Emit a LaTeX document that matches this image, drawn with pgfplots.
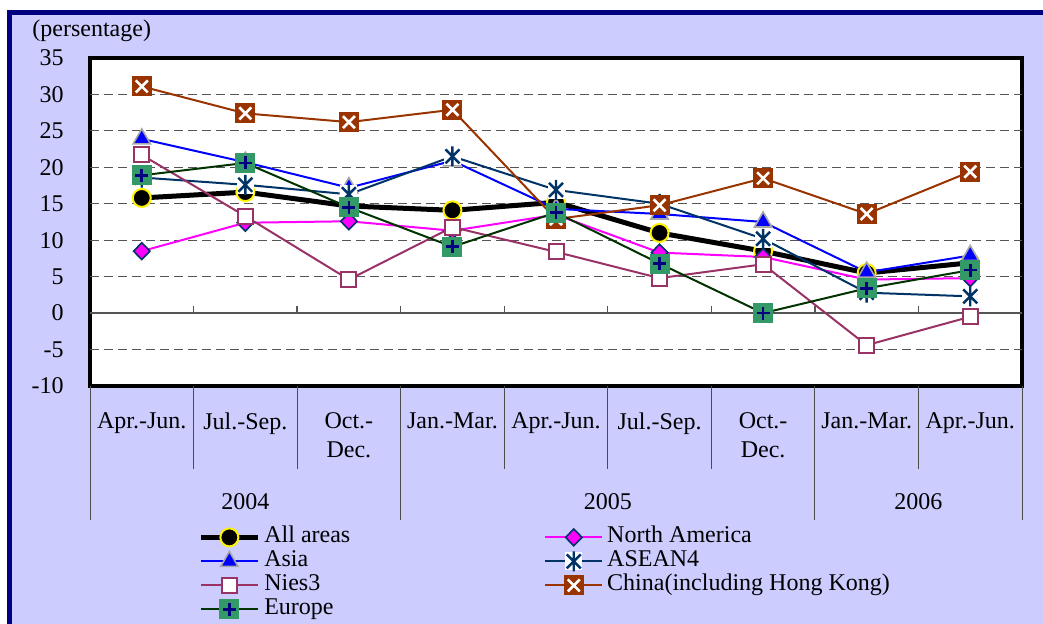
\documentclass[border=0pt,12pt]{standalone}
\usepackage{fontspec}
\setmainfont{Liberation Serif}
\usepackage{pgfplots}
\pgfplotsset{compat=1.18}
\definecolor{navyb}{HTML}{000080}
\definecolor{lav}{HTML}{CCCCFF}
\definecolor{naone}{HTML}{003366}
\definecolor{plum}{HTML}{993366}
\definecolor{chinab}{HTML}{993300}
\definecolor{eurl}{HTML}{003300}
\definecolor{eurf}{HTML}{339966}
\definecolor{gridc}{HTML}{555555}
\definecolor{magn}{HTML}{FF00FF}
\pgfdeclareplotmark{chinamark}{%
  \pgfpathrectangle{\pgfqpoint{-\pgfplotmarksize}{-\pgfplotmarksize}}{\pgfqpoint{2\pgfplotmarksize}{2\pgfplotmarksize}}%
  \pgfsetfillcolor{chinab}\pgfusepath{fill}%
  \pgfsetstrokecolor{white}\pgfsetlinewidth{1.3pt}%
  \pgfpathmoveto{\pgfqpoint{-0.6\pgfplotmarksize}{-0.6\pgfplotmarksize}}\pgfpathlineto{\pgfqpoint{0.6\pgfplotmarksize}{0.6\pgfplotmarksize}}%
  \pgfpathmoveto{\pgfqpoint{-0.6\pgfplotmarksize}{0.6\pgfplotmarksize}}\pgfpathlineto{\pgfqpoint{0.6\pgfplotmarksize}{-0.6\pgfplotmarksize}}%
  \pgfusepath{stroke}}
\pgfdeclareplotmark{euromark}{%
  \pgfpathrectangle{\pgfqpoint{-\pgfplotmarksize}{-\pgfplotmarksize}}{\pgfqpoint{2\pgfplotmarksize}{2\pgfplotmarksize}}%
  \pgfsetfillcolor{eurf}\pgfusepath{fill}%
  \pgfsetstrokecolor{navyb}\pgfsetlinewidth{1.3pt}%
  \pgfpathmoveto{\pgfqpoint{-0.65\pgfplotmarksize}{0pt}}\pgfpathlineto{\pgfqpoint{0.65\pgfplotmarksize}{0pt}}%
  \pgfpathmoveto{\pgfqpoint{0pt}{-0.65\pgfplotmarksize}}\pgfpathlineto{\pgfqpoint{0pt}{0.65\pgfplotmarksize}}%
  \pgfusepath{stroke}}
\pgfdeclareplotmark{aseanmark}{%
  \pgfpathrectangle{\pgfqpoint{-0.85\pgfplotmarksize}{-0.9\pgfplotmarksize}}{\pgfqpoint{1.7\pgfplotmarksize}{1.8\pgfplotmarksize}}%
  \pgfsetfillcolor{white}\pgfusepath{fill}%
  \pgfsetstrokecolor{naone}\pgfsetlinewidth{1.2pt}%
  \pgfpathmoveto{\pgfqpoint{0pt}{-\pgfplotmarksize}}\pgfpathlineto{\pgfqpoint{0pt}{\pgfplotmarksize}}%
  \pgfpathmoveto{\pgfqpoint{-0.7\pgfplotmarksize}{-0.7\pgfplotmarksize}}\pgfpathlineto{\pgfqpoint{0.7\pgfplotmarksize}{0.7\pgfplotmarksize}}%
  \pgfpathmoveto{\pgfqpoint{-0.7\pgfplotmarksize}{0.7\pgfplotmarksize}}\pgfpathlineto{\pgfqpoint{0.7\pgfplotmarksize}{-0.7\pgfplotmarksize}}%
  \pgfusepath{stroke}}
\begin{document}
\begin{tikzpicture}[x=1pt,y=1pt]
\clip (0,0) rectangle (521.5,312);
\fill[white] (0,0) rectangle (521.5,312);
\draw[line width=2.5pt, draw=navyb, fill=lav] (4.6,305.75) rectangle (545,-20);
\node[anchor=west, inner sep=0pt] at (16,296.5) {(persentage)};
\begin{axis}[
  at={(45pt,119pt)}, anchor=south west,
  scale only axis, width=466pt, height=164pt,
  xmin=-0.5, xmax=8.5, ymin=-10, ymax=35,
  xtick={0,...,8},
  xticklabels={Apr.-Jun.,Jul.-Sep.,{Oct.-\\Dec.},Jan.-Mar.,Apr.-Jun.,Jul.-Sep.,{Oct.-\\Dec.},Jan.-Mar.,Apr.-Jun.},
  xticklabel style={align=center, yshift=-9pt},
  ytick={-10,-5,...,35},
  yticklabels={-10,-5,0,5,10,15,20,25,30,35},
  yticklabel style={xshift=-9pt},
  major tick length=0pt,
  axis line style={line width=2.2pt, black},
  axis background/.style={fill=white},
  clip=false,
  legend columns=2,
  legend cell align=left,
  legend image code/.code={\draw[mark repeat=2,mark phase=2] plot coordinates {(0cm,0cm) (0.5cm,0cm) (1cm,0cm)};},
  legend style={at={(0.1159,-0.4238)}, anchor=north west, draw=none, fill=none,
    inner sep=0pt, row sep=0pt, column sep=0pt,
    nodes={inner xsep=2pt, inner ysep=0pt, text height=8.5pt, text depth=3.5pt}},
]
\pgfplotsinvokeforeach{-5,5,10,15,20,25,30}{\draw[gridc, line width=0.6pt, dash pattern=on 4.5pt off 2.5pt] (axis cs:-0.5,#1) -- (axis cs:8.5,#1);}
\draw[gridc, line width=0.7pt] (axis cs:-0.5,0) -- (axis cs:8.5,0);
\pgfplotsinvokeforeach{0.5,1.5,2.5,3.5,4.5,5.5,6.5,7.5}{\draw[gridc, line width=0.7pt] (axis cs:#1,0) -- ++(0pt,3.5pt);}
\pgfplotsinvokeforeach{0.5,1.5,3.5,4.5,5.5,7.5}{\draw[black!70, line width=0.5pt] (axis cs:#1,-10) -- ++(0pt,-41.5pt);}
\pgfplotsinvokeforeach{-0.5,2.5,6.5,8.5}{\draw[black!70, line width=0.5pt] (axis cs:#1,-10) -- ++(0pt,-67pt);}
\node[yshift=-58pt] at (axis cs:1,-10) {2004};
\node[yshift=-58pt] at (axis cs:4.5,-10) {2005};
\node[yshift=-58pt] at (axis cs:7.5,-10) {2006};

\addplot[black, line width=2.5pt, mark=*, mark size=4.5pt, mark options={fill=black, draw=yellow, line width=1pt}]
  coordinates {(0,15.8) (1,16.6) (2,14.7) (3,14.1) (4,15.2) (5,11.0) (6,8.5) (7,5.5) (8,6.9)};
\addlegendentry{\makebox[138pt][l]{All areas}}
\addplot[magn, line width=1pt, mark=diamond*, mark size=4.2pt, mark options={fill=magn, draw=naone, line width=0.8pt, xscale=1.3}]
  coordinates {(0,8.5) (1,12.4) (2,12.6) (3,11.3) (4,13.5) (5,8.3) (6,7.7) (7,4.6) (8,4.8)};
\addlegendentry{North America}
\addplot[blue, line width=1pt, mark=triangle*, mark size=5pt, mark options={fill=blue, draw=black!35, line width=0.8pt}]
  coordinates {(0,23.9) (1,20.7) (2,17.2) (3,20.9) (4,14.3) (5,13.6) (6,12.5) (7,5.6) (8,7.9)};
\addlegendentry{\makebox[138pt][l]{Asia}}
\addplot[naone, line width=1pt, mark=aseanmark, mark size=5pt]
  coordinates {(0,18.6) (1,17.6) (2,16.3) (3,21.5) (4,16.9) (5,15.0) (6,10.2) (7,2.8) (8,2.3)};
\addlegendentry{ASEAN4}
\addplot[plum, line width=1pt, mark=square*, mark size=3.75pt, mark options={fill=white, draw=plum, line width=1pt}]
  coordinates {(0,21.7) (1,13.3) (2,4.6) (3,11.8) (4,8.4) (5,4.8) (6,6.7) (7,-4.4) (8,-0.5)};
\addlegendentry{\makebox[138pt][l]{Nies3}}
\addplot[chinab, line width=1pt, mark=chinamark, mark size=5pt]
  coordinates {(0,31.1) (1,27.4) (2,26.2) (3,27.9) (4,12.9) (5,14.8) (6,18.5) (7,13.6) (8,19.4)};
\addlegendentry{China(including Hong Kong)}
\addplot[eurl, line width=1pt, mark=euromark, mark size=5pt]
  coordinates {(0,18.9) (1,20.6) (2,14.5) (3,9.1) (4,13.8) (5,6.8) (6,0.0) (7,3.4) (8,5.9)};
\addlegendentry{\makebox[138pt][l]{Europe}}
\end{axis}
\end{tikzpicture}
\end{document}
